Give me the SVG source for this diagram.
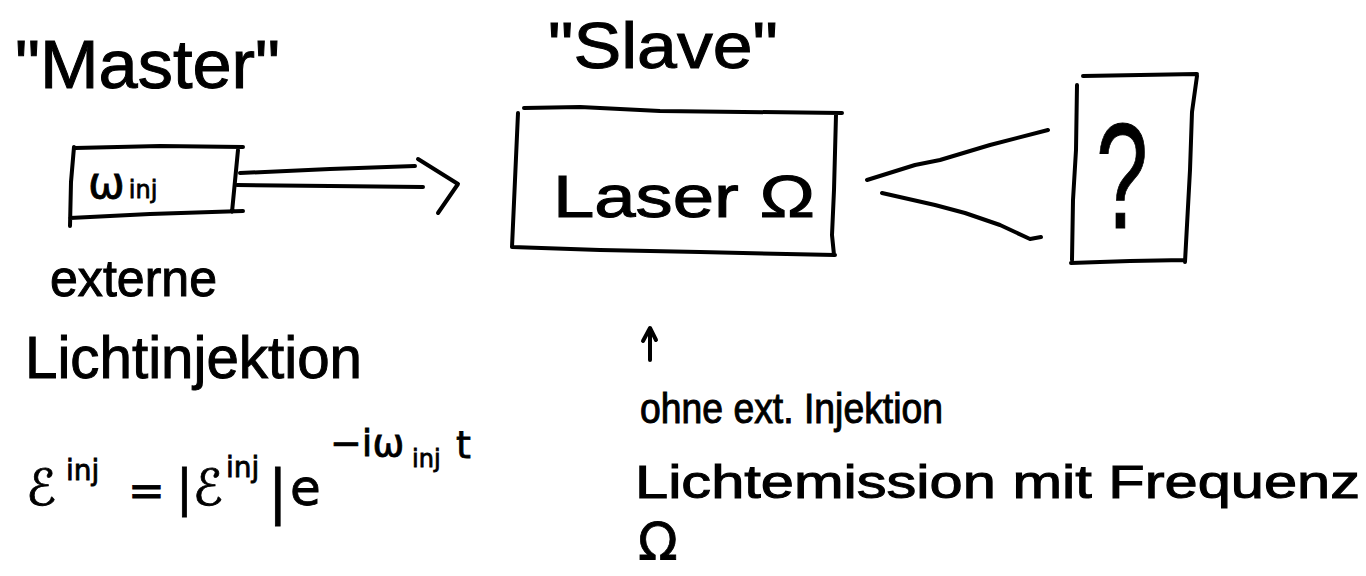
<svg xmlns="http://www.w3.org/2000/svg" width="1366" height="576" viewBox="0 0 1366 576">
<style>
  .ln { fill: none; stroke: #000; stroke-width: 4; stroke-linecap: round; stroke-linejoin: round; }
  .t { font-family: "Liberation Sans", "DejaVu Sans", sans-serif; fill: #000; stroke: #000; stroke-width: 1; }
  .m { font-family: "DejaVu Sans", "Liberation Sans", sans-serif; fill: #000; stroke: #000; stroke-width: 0.8; }
</style>
<rect width="1366" height="576" fill="#fff"/>

<g id="master">
  <text class="t" x="15" y="88" font-size="68" textLength="265" lengthAdjust="spacingAndGlyphs">"Master"</text>
  <path class="ln" d="M75,148 L160,146 L243,147 M238,150 L232,212 M70,218 L150,214 L243,211 M74,147 L71,182 L70,226"/>
  <text class="m" x="88" y="198" font-size="44">ω<tspan font-size="24" dx="4">inj</tspan></text>
</g>

<g id="slave">
  <text class="t" x="548" y="68" font-size="64" textLength="230" lengthAdjust="spacingAndGlyphs">"Slave"</text>
  <path class="ln" d="M524,108 L580,107 L660,111 L842,113 M518,113 L515,180 L512,247 M512,247 L600,250 L700,252 L835,255 M836,115 L834,190 L832,235 L834,255"/>
  <text class="t" x="553" y="217" font-size="60" textLength="262" lengthAdjust="spacingAndGlyphs">Laser Ω</text>
</g>

<g id="unknown">
  <path class="ln" d="M1083,76 L1140,75 L1197,74 M1197,76 L1192,112 L1190,170 L1185,262 M1071,263 L1100,262 L1130,261 L1185,260 M1077,85 L1076,150 L1073,200 L1072,260"/>
  <text class="t" x="1096" y="228" font-size="150" textLength="52" lengthAdjust="spacingAndGlyphs">?</text>
</g>

<g id="connectors">
  <path class="ln" d="M240,173 L330,169 L415,166"/>
  <path class="ln" d="M237,185 L330,186 L423,187"/>
  <path class="ln" d="M418,159 L458,184 L438,213"/>
  <path class="ln" d="M867,180 L915,165 L940,160 L990,145 L1048,130"/>
  <path class="ln" d="M882,193 L935,205 L965,213 L1000,225 L1030,239 L1041,237"/>
  <path class="ln" d="M650,360 L650,330 M643,341 L650,328 L656,340"/>
</g>

<g id="label-externe">
  <text class="t" x="50" y="296" font-size="52" textLength="167" lengthAdjust="spacingAndGlyphs">externe</text>
  <text class="t" x="25" y="378" font-size="60" textLength="337" lengthAdjust="spacingAndGlyphs">Lichtinjektion</text>
</g>

<g id="formula">
  <text class="m" x="26" y="505" font-size="50">ℰ</text>
  <text class="m" x="66" y="480" font-size="28">inj</text>
  <text class="m" x="128" y="506" font-size="44">=</text>
  <text class="m" x="176" y="505" font-size="50">|ℰ</text>
  <text class="m" x="226" y="477" font-size="28">inj</text>
  <text class="m" x="268" y="512" font-size="58">|</text>
  <text class="m" x="290" y="505" font-size="50">e</text>
  <text class="m" x="330" y="456" font-size="38">−iω</text>
  <text class="m" x="412" y="467" font-size="24">inj</text>
  <text class="m" x="456" y="458" font-size="38">t</text>
</g>

<g id="label-ohne">
  <text class="t" x="640" y="423" font-size="42" textLength="303" lengthAdjust="spacingAndGlyphs">ohne ext. Injektion</text>
  <text class="t" x="635" y="498" font-size="46" textLength="725" lengthAdjust="spacingAndGlyphs">Lichtemission mit Frequenz</text>
  <text class="m" x="638" y="560" font-size="52">Ω</text>
</g>
</svg>
